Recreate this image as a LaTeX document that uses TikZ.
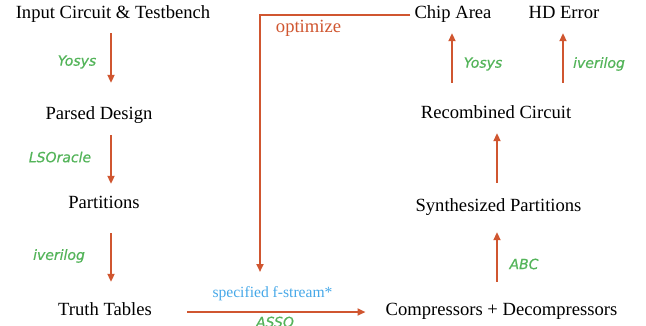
\documentclass[tikz,border=0pt]{standalone}
\usepackage{fontspec}
\setmainfont{Liberation Serif}
\newfontfamily\lblfont{DejaVu Sans}[FakeBold=0.6]
\usetikzlibrary{arrows.meta,calc}
\definecolor{arrc}{RGB}{208,86,48}
\definecolor{grn}{RGB}{84,180,90}
\definecolor{blu}{RGB}{70,168,232}
\tikzset{
  box/.style={anchor=base,inner sep=0pt,text height=13pt,text depth=4pt,font=\fontsize{18.6}{20}\selectfont},
  tool/.style={anchor=center,inner sep=0pt,text=grn,font=\lblfont\itshape\fontsize{14}{16}\selectfont},
  arr/.style={draw=arrc,line width=2pt,-{Triangle[length=8pt,width=7pt]}},
}
\begin{document}
\begin{tikzpicture}[x=1pt,y=-1pt]
\useasboundingbox (0,0) rectangle (646,325);
% left column
\node[box] (in) at (113,18) {Input Circuit \& Testbench};
\node[box] (pd) at (99,119) {Parsed Design};
\node[box] (pa) at (104,208) {Partitions};
\node[box] (tt) at (105,315) {Truth Tables};
% right column
\node[box] (ca) at (453,18) {Chip Area};
\node[box] (hd) at (564,18) {HD Error};
\node[box] (rc) at (496,118) {Recombined Circuit};
\node[box] (sp) at (498.5,211) {Synthesized Partitions};
\node[box] (cd) at (501.5,315) {Compressors + Decompressors};
% tool labels
\node[tool] (l1) at (77,62) {Yosys};
\node[tool] (l2) at (60,157) {LSOracle};
\node[tool] (l3) at (59,256) {iverilog};
\node[tool] (l4) at (483,64) {Yosys};
\node[tool] (l5) at (599,64) {iverilog};
\node[tool] (l6) at (524,264) {ABC};
\node[tool] (l7) at (275,322) {ASSO};
\node[anchor=center,inner sep=0pt,text=blu,font=\fontsize{15.6}{17}\selectfont] (fs) at (272.5,294) {specified f-stream*};
\node[anchor=center,inner sep=0pt,text=arrc,font=\fontsize{18.6}{20}\selectfont] (op) at (308.5,28) {optimize};
% guide coordinates
\coordinate (L) at (111,0);
\coordinate (R) at (497,0);
\coordinate (RA) at (452,0);
\coordinate (RH) at (563,0);
\coordinate (opt) at (260,272);
% left arrows
\draw[arr,shorten <=11pt,shorten >=23pt] (in.south -| L) -- (pd.north -| L);
\draw[arr,shorten <=12pt,shorten >=11pt] (pd.south -| L) -- (pa.north -| L);
\draw[arr,shorten <=21pt,shorten >=20pt] (pa.south -| L) -- (tt.north -| L);
% bottom arrow
\draw[arr,shorten <=35pt,shorten >=20pt] ([yshift=-1.5pt]tt.east) -- ([yshift=-1.5pt]tt.east -| cd.west);
% right arrows
\draw[arr,shorten <=20pt,shorten >=17pt] (cd.north -| R) -- (sp.south -| R);
\draw[arr,shorten <=15pt,shorten >=11pt] (sp.north -| R) -- (rc.south -| R);
\draw[arr,shorten <=22pt,shorten >=11pt] (rc.north -| RA) -- (ca.south -| RA);
\draw[arr,shorten <=22pt,shorten >=11pt] (rc.north -| RH) -- (hd.south -| RH);
% optimize loop
\draw[arr,shorten <=4pt] ([yshift=-1.5pt]ca.west) -| (opt);
\end{tikzpicture}
\end{document}
